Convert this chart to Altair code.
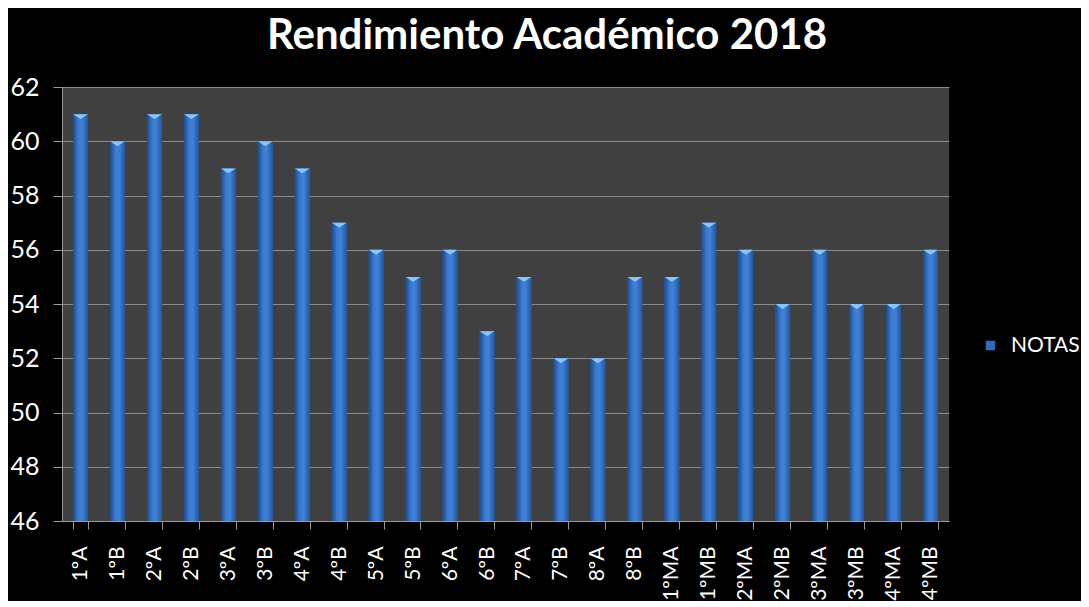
import altair as alt
import pandas as pd

cursos = ["1ºA", "1ºB", "2ºA", "2ºB", "3ºA", "3ºB", "4ºA", "4ºB", "5ºA", "5ºB",
          "6ºA", "6ºB", "7ºA", "7ºB", "8ºA", "8ºB", "1ºMA", "1ºMB", "2ºMA", "2ºMB",
          "3ºMA", "3ºMB", "4ºMA", "4ºMB"]
notas = [61, 60, 61, 61, 59, 60, 59, 57, 56, 55, 56, 53, 55, 52, 52, 55,
         55, 57, 56, 54, 56, 54, 54, 56]
y_min, y_max = 46, 62
y_ticks = [46, 48, 50, 52, 54, 56, 58, 60, 62]

df = pd.DataFrame({"curso": cursos, "nota": notas, "serie": ["NOTAS"] * len(cursos)})

FONT = "Lato"

x_enc = alt.X("curso:N", sort=cursos, title=None,
              scale=alt.Scale(paddingInner=0.6, paddingOuter=0.3),
              axis=alt.Axis(labelAngle=270, labelFontSize=21, labelColor="white",
                            labelFont=FONT, tickBand="extent", tickColor="#9a9a9a",
                            tickSize=8, domainColor="#9a9a9a", labelPadding=17,
                            grid=False))
y_enc = alt.Y("nota:Q", title=None,
              scale=alt.Scale(domain=[y_min, y_max], zero=False, nice=False),
              axis=alt.Axis(values=y_ticks, labelFontSize=25, labelColor="white",
                            labelFont=FONT, tickColor="#9a9a9a", tickSize=9,
                            domainColor="#9a9a9a", gridColor="#8a8a8a",
                            gridWidth=1.2, labelPadding=14))

base = alt.Chart(df)

legend_bars = base.mark_bar().encode(
    x=x_enc, y=y_enc, y2=alt.datum(y_min),
    color=alt.Color("serie:N", title=None,
                    scale=alt.Scale(domain=["NOTAS"], range=["#2f6cc0"]),
                    legend=alt.Legend(orient="none", legendX=918, legendY=248,
                                      symbolType="square", symbolSize=90,
                                      labelFontSize=21, labelColor="white",
                                      labelFont=FONT, symbolStrokeWidth=0,
                                      labelOffset=10)),
)

grad = alt.Gradient(
    gradient="linear", x1=0, y1=0, x2=1, y2=0,
    stops=[alt.GradientStop(color="#1d4a8c", offset=0),
           alt.GradientStop(color="#3a7bd0", offset=0.35),
           alt.GradientStop(color="#3f82d8", offset=0.6),
           alt.GradientStop(color="#24569e", offset=1)])

grad_bars = base.mark_bar(fill=grad).encode(
    x=x_enc, y=y_enc, y2=alt.datum(y_min))

caps = base.mark_point(shape="M-1,0L1,0L0,0.65Z", filled=True, size=225,
                       color="#8cc4f5", opacity=1).encode(x=x_enc, y=y_enc)

chart = alt.layer(legend_bars, grad_bars, caps).properties(
    width=887, height=434,
    title=alt.TitleParams("Rendimiento Académico 2018", fontSize=42, font=FONT,
                          fontWeight="bold", color="white", anchor="middle",
                          frame="bounds", dx=2, offset=17),
    padding={"left": 54, "top": 79, "right": 132, "bottom": 80},
    autosize=alt.AutoSizeParams(type="none"),
    background="black",
).configure_view(fill="#404040", stroke=None).configure_axis(
    grid=True
)

chart.save("out.html", embed_options={"renderer": "svg", "actions": False})
